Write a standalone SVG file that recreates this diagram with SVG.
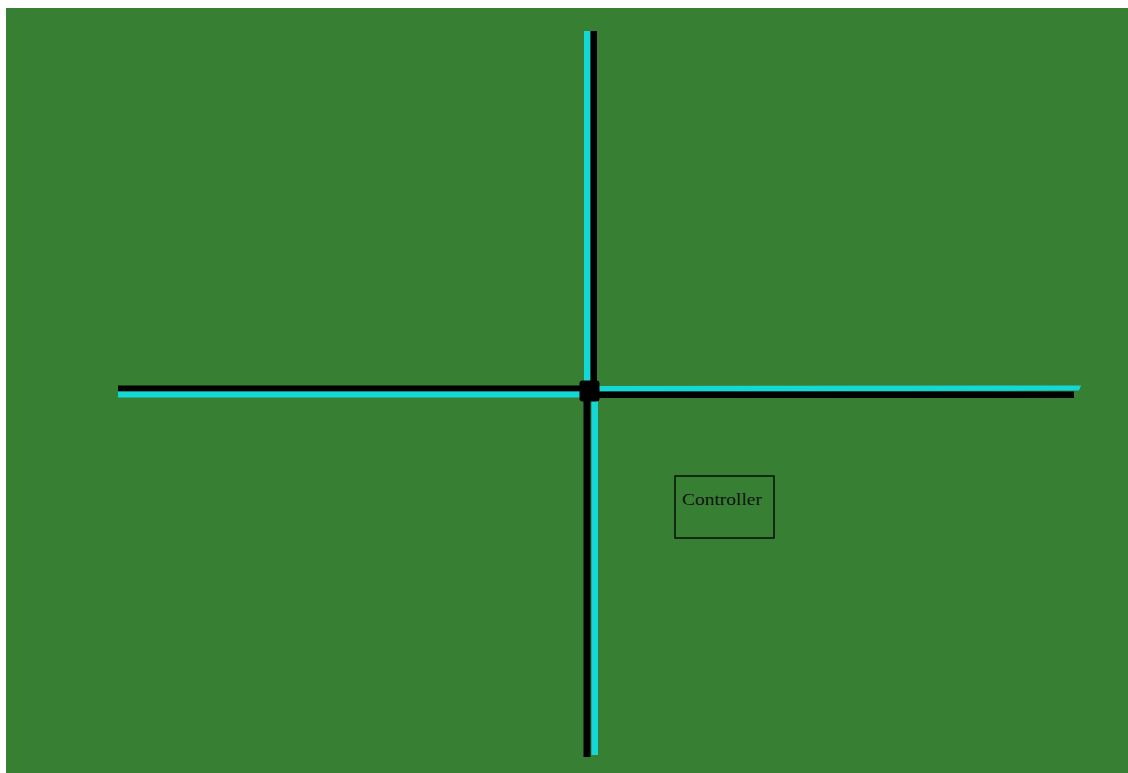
<svg xmlns="http://www.w3.org/2000/svg" width="1128" height="773" viewBox="0 0 1128 773">
<style>
.cy{fill:#14d8d8}
.bk{fill:#000}
.box{fill:none;stroke:#000;stroke-width:1.3}
.lbl{font-family:"Liberation Serif","Times New Roman",serif;font-size:17px;fill:#111}
</style>
<rect x="0" y="0" width="1128" height="773" fill="#fff"/>
<rect id="field" x="6" y="8" width="1122" height="765" fill="#377f33"/>
<g id="connectors">
<g id="pipe-top">
<rect class="cy" x="584" y="31" width="6.5" height="352"/>
<rect class="bk" x="590.5" y="31" width="6.5" height="352"/>
</g>
<g id="pipe-bottom">
<rect class="bk" x="583.5" y="398" width="7" height="359"/>
<rect class="cy" x="591.5" y="398" width="6.5" height="357"/>
</g>
<g id="pipe-left">
<rect class="bk" x="118" y="385.5" width="464" height="6"/>
<rect class="cy" x="118" y="391.5" width="464" height="6"/>
</g>
<g id="pipe-right">
<polygon class="cy" points="598,386 1081,385.5 1079,390.5 598,391.5"/>
<rect class="bk" x="598" y="391.5" width="476" height="6.5"/>
</g>
</g>
<g id="junction">
<rect class="bk" x="579.5" y="380.5" width="20" height="21" rx="3"/>
</g>
<g id="controller">
<rect class="box" x="675" y="476" width="99" height="62"/>
<text class="lbl" x="682" y="504.5" textLength="80" lengthAdjust="spacingAndGlyphs">Controller</text>
</g>
</svg>
